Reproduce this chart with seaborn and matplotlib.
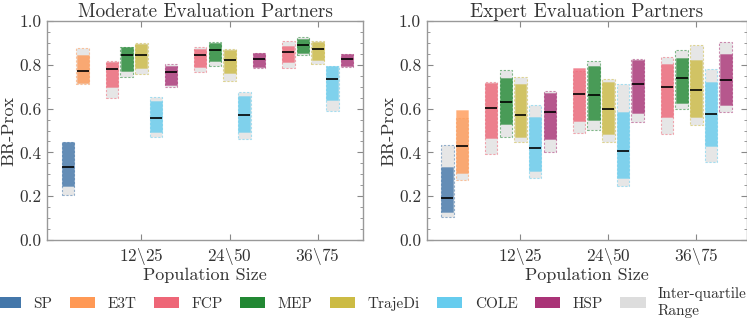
import numpy as np
import pandas as pd
import seaborn as sns
import matplotlib
matplotlib.use("Agg")
import matplotlib.pyplot as plt
from matplotlib.patches import Patch

# ---------------- data ----------------
methods = ["SP", "E3T", "FCP", "MEP", "TrajeDi", "COLE", "HSP"]
group_labels = ["", r"$12\backslash25$", r"$24\backslash50$", r"$36\backslash75$"]
panel_titles = ["Moderate Evaluation Partners", "Expert Evaluation Partners"]

# group index for each entry (SP & E3T only in group 0)
groups = {"SP": [0], "E3T": [0], "FCP": [1, 2, 3], "MEP": [1, 2, 3],
          "TrajeDi": [1, 2, 3], "COLE": [1, 2, 3], "HSP": [1, 2, 3]}

# Moderate evaluation partners
mod_iqr_lo = {"SP": [0.205], "E3T": [0.711], "FCP": [0.647, 0.769, 0.784], "MEP": [0.743, 0.796, 0.843],
              "TrajeDi": [0.758, 0.728, 0.802], "COLE": [0.469, 0.461, 0.588], "HSP": [0.699, 0.784, 0.789]}
mod_iqr_hi = {"SP": [0.449], "E3T": [0.878], "FCP": [0.819, 0.883, 0.907], "MEP": [0.883, 0.906, 0.927],
              "TrajeDi": [0.901, 0.874, 0.909], "COLE": [0.651, 0.674, 0.796], "HSP": [0.802, 0.852, 0.849]}
mod_bar_lo = {"SP": [0.247], "E3T": [0.718], "FCP": [0.700, 0.791, 0.811], "MEP": [0.773, 0.819, 0.855],
              "TrajeDi": [0.784, 0.764, 0.820], "COLE": [0.492, 0.495, 0.638], "HSP": [0.708, 0.791, 0.795]}
mod_bar_hi = {"SP": [0.449], "E3T": [0.845], "FCP": [0.814, 0.872, 0.887], "MEP": [0.880, 0.898, 0.919],
              "TrajeDi": [0.893, 0.869, 0.906], "COLE": [0.636, 0.659, 0.793], "HSP": [0.796, 0.852, 0.849]}
mod_median = {"SP": [0.332], "E3T": [0.772], "FCP": [0.779, 0.843, 0.858], "MEP": [0.846, 0.866, 0.890],
              "TrajeDi": [0.843, 0.823, 0.871], "COLE": [0.559, 0.571, 0.734], "HSP": [0.767, 0.828, 0.828]}

# Expert evaluation partners
exp_iqr_lo = {"SP": [0.104], "E3T": [0.274], "FCP": [0.391, 0.487, 0.482], "MEP": [0.469, 0.504, 0.597],
              "TrajeDi": [0.446, 0.449, 0.524], "COLE": [0.283, 0.248, 0.358], "HSP": [0.403, 0.537, 0.586]}
exp_iqr_hi = {"SP": [0.434], "E3T": [0.559], "FCP": [0.720, 0.770, 0.834], "MEP": [0.776, 0.816, 0.868],
              "TrajeDi": [0.746, 0.734, 0.889], "COLE": [0.616, 0.711, 0.781], "HSP": [0.682, 0.825, 0.903]}
exp_bar_lo = {"SP": [0.126], "E3T": [0.304], "FCP": [0.464, 0.545, 0.563], "MEP": [0.528, 0.546, 0.624],
              "TrajeDi": [0.469, 0.486, 0.560], "COLE": [0.317, 0.285, 0.429], "HSP": [0.460, 0.581, 0.615]}
exp_bar_hi = {"SP": [0.335], "E3T": [0.594], "FCP": [0.715, 0.787, 0.802], "MEP": [0.741, 0.796, 0.833],
              "TrajeDi": [0.712, 0.723, 0.823], "COLE": [0.563, 0.586, 0.723], "HSP": [0.670, 0.822, 0.848]}
exp_median = {"SP": [0.190], "E3T": [0.431], "FCP": [0.601, 0.668, 0.697], "MEP": [0.632, 0.664, 0.740],
              "TrajeDi": [0.572, 0.600, 0.686], "COLE": [0.420, 0.406, 0.574], "HSP": [0.584, 0.712, 0.731]}

panels = [(mod_iqr_lo, mod_iqr_hi, mod_bar_lo, mod_bar_hi, mod_median),
          (exp_iqr_lo, exp_iqr_hi, exp_bar_lo, exp_bar_hi, exp_median)]

# ---------------- style ----------------
colors = ["#4477AA", "#FF9955", "#EE6677", "#228833", "#CCBB44", "#66CCEE", "#AA3377"]
iqr_color = "#E6E6E6"
method_offset = {"SP": 1, "E3T": 2, "FCP": -2, "MEP": -1, "TrajeDi": 0, "COLE": 1, "HSP": 2}
step = 0.167
width = 0.143

sns.set_style("ticks")
plt.rcParams.update({
    "font.family": "serif",
    "font.serif": ["cmr10"],
    "mathtext.fontset": "cm",
    "axes.formatter.use_mathtext": True,
    "axes.unicode_minus": False,
    "text.color": "#333333",
    "axes.labelcolor": "#333333",
    "xtick.color": "#888888",
    "ytick.color": "#888888",
    "xtick.labelcolor": "#333333",
    "ytick.labelcolor": "#333333",
    "axes.edgecolor": "#999999",
    "axes.linewidth": 1.0,
})

fig = plt.figure(figsize=(7.47, 3.19), dpi=100)
ax_pos = [[0.0633, 0.2476, 0.4226, 0.6865], [0.5712, 0.2476, 0.4284, 0.6865]]
xlims = [(-0.069, 3.514), (-0.067, 3.573)]

for p, (iqr_lo, iqr_hi, bar_lo, bar_hi, med) in enumerate(panels):
    ax = fig.add_axes(ax_pos[p])
    for m, col in zip(methods, colors):
        x = np.array(groups[m], dtype=float) + method_offset[m] * step
        lo = np.array(iqr_lo[m]); hi = np.array(iqr_hi[m])
        bars = ax.bar(x, hi - lo, bottom=lo, width=width, color=iqr_color,
                      edgecolor=matplotlib.colors.to_rgba(col, 0.55),
                      linewidth=0.8, zorder=2)
        for b in bars:
            b.set_linestyle((0, (2.0, 1.5)))
        blo = np.array(bar_lo[m]); bhi = np.array(bar_hi[m])
        ax.bar(x, bhi - blo, bottom=blo, width=width * 0.95,
               color=matplotlib.colors.to_rgba(col, 0.8),
               edgecolor=matplotlib.colors.to_rgba(col, 0.3), linewidth=0.6, zorder=3)
        ax.hlines(np.array(med[m]), x - width * 0.475, x + width * 0.475,
                  color="black", alpha=0.85, linewidth=1.4, zorder=4)
    ax.set_xlim(*xlims[p])
    ax.set_ylim(0.0, 1.0)
    ax.set_xticks([1, 2, 3])
    ax.set_xticklabels(group_labels[1:])
    ax.set_yticks(np.arange(0, 1.01, 0.2))
    ax.set_yticklabels([f"{v:.1f}" for v in np.arange(0, 1.01, 0.2)])
    ax.set_yticks(np.arange(0, 1.001, 0.05), minor=True)
    ax.tick_params(axis="both", which="major", direction="in", length=4, width=0.8,
                   labelsize=12.5, pad=4, right=True, top=True)
    ax.tick_params(axis="y", which="minor", direction="in", length=2, width=0.6, right=True)
    ax.tick_params(axis="x", which="minor", bottom=False, top=False)
    ax.set_title(panel_titles[p], fontsize=13.8, pad=3)
    ax.set_xlabel("Population Size", fontsize=13, labelpad=1)
    ax.set_ylabel("BR-Prox", fontsize=13, labelpad=2)

handles = [Patch(facecolor=c, edgecolor="none") for c in colors]
handles.append(Patch(facecolor="#DDDDDD", edgecolor="none"))
labels = methods + ["Inter-quartile\nRange"]
fig.legend(handles, labels, loc="center", bbox_to_anchor=(0.497, 0.052), ncol=8,
           frameon=False, fontsize=11, handlelength=1.65, handleheight=0.8,
           handletextpad=0.8, columnspacing=1.15, borderpad=0, borderaxespad=0)

fig.savefig("out.png", dpi=100)
